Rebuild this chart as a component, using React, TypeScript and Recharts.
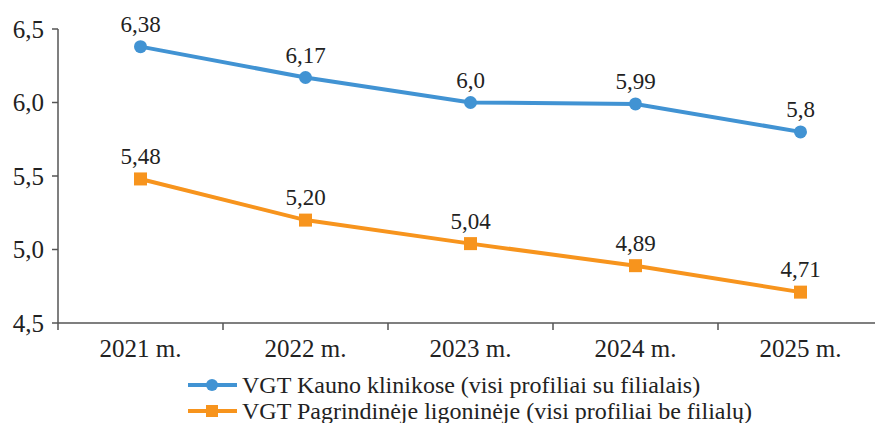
import { LabelList, Line, LineChart, XAxis, YAxis } from "recharts";

const years = ["2021 m.", "2022 m.", "2023 m.", "2024 m.", "2025 m."];
const kauno = [6.38, 6.17, 6.0, 5.99, 5.8];
const kaunoLabels = ["6,38", "6,17", "6,0", "5,99", "5,8"];
const pagr = [5.48, 5.2, 5.04, 4.89, 4.71];
const pagrLabels = ["5,48", "5,20", "5,04", "4,89", "4,71"];
const yTicks = [4.5, 5.0, 5.5, 6.0, 6.5];
const kaunoName = "VGT Kauno klinikose (visi profiliai su filialais)";
const pagrName = "VGT Pagrindinėje ligoninėje (visi profiliai be filialų)";

const blue = "#4193d3";
const orange = "#f7941d";
const axisColor = "#555";
const textColor = "#222";
const font = "'Liberation Serif', 'Times New Roman', serif";

const rows = years.map((year, i) => ({
  year,
  kauno: kauno[i],
  kaunoLabel: kaunoLabels[i],
  pagr: pagr[i],
  pagrLabel: pagrLabels[i],
}));

const HALF_BAND = 82.5;

function XTick(props: any) {
  const { x, y, payload } = props;
  return (
    <g>
      <line x1={x - HALF_BAND} x2={x - HALF_BAND} y1={y - 8} y2={y - 1} stroke={axisColor} strokeWidth={1.5} />
      <text x={x} y={y + 26} textAnchor="middle" fontSize={25} fill={textColor} fontFamily={font}>
        {payload.value}
      </text>
    </g>
  );
}

function SquareDot(props: any) {
  const { cx, cy } = props;
  if (cx == null || cy == null) return null;
  return <rect x={cx - 6.5} y={cy - 6.5} width={13} height={13} fill={orange} />;
}

function LegendBox() {
  const item = (color: string, name: string, square: boolean) => (
    <div style={{ display: "flex", alignItems: "center", height: 26 }}>
      <svg width={50} height={16}>
        <line x1={0} x2={49} y1={8} y2={8} stroke={color} strokeWidth={4} />
        {square ? <rect x={18} y={2} width={12} height={12} fill={color} /> : <circle cx={24} cy={8} r={6} fill={color} />}
      </svg>
      <span style={{ marginLeft: 4, fontSize: 24, color: textColor, fontFamily: font, lineHeight: "26px" }}>{name}</span>
    </div>
  );
  return (
    <div style={{ position: "absolute", left: 188, top: 372 }}>
      {item(blue, kaunoName, false)}
      {item(orange, pagrName, true)}
    </div>
  );
}

export default function App() {
  return (
    <div style={{ width: 875, height: 423, overflow: "hidden", position: "relative", background: "#fff", fontFamily: font }}>
      <style>{`body{margin:0}`}</style>
      <LineChart width={883} height={423} data={rows} margin={{ top: 29, right: 0, bottom: 60, left: 0 }}>
        <XAxis
          dataKey="year"
          tick={<XTick />}
          tickLine={false}
          axisLine={{ stroke: axisColor, strokeWidth: 1.5 }}
          height={40}
          interval={0}
          padding={{ left: HALF_BAND, right: HALF_BAND }}
        />
        <YAxis
          domain={[4.5, 6.5]}
          ticks={yTicks}
          width={58}
          axisLine={{ stroke: axisColor, strokeWidth: 1.5 }}
          tickLine={{ stroke: axisColor, strokeWidth: 1.5 }}
          tickSize={6}
          tickMargin={8}
          tickFormatter={(v: number) => v.toFixed(1).replace(".", ",")}
          tick={{ fontSize: 25, fill: textColor, fontFamily: font }}
        />
        <Line
          dataKey="kauno"
          name={kaunoName}
          stroke={blue}
          strokeWidth={4}
          dot={{ r: 6.5, fill: blue, stroke: blue, strokeWidth: 0 }}
          isAnimationActive={false}
        >
          <LabelList dataKey="kaunoLabel" position="top" offset={15} fontSize={23} fill={textColor} fontFamily={font} />
        </Line>
        <Line
          dataKey="pagr"
          name={pagrName}
          stroke={orange}
          strokeWidth={4}
          dot={<SquareDot />}
          isAnimationActive={false}
        >
          <LabelList dataKey="pagrLabel" position="top" offset={15} fontSize={23} fill={textColor} fontFamily={font} />
        </Line>
      </LineChart>
      <LegendBox />
    </div>
  );
}
